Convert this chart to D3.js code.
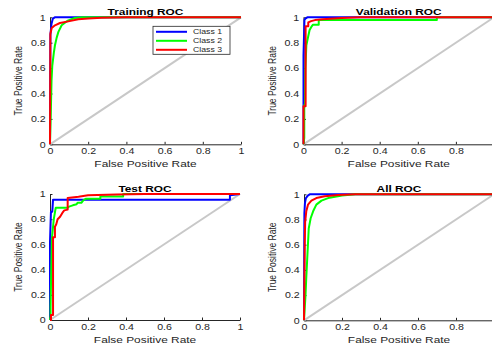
<!DOCTYPE html>
<html>
<head>
<meta charset="utf-8">
<script src="https://cdn.jsdelivr.net/npm/d3@7"></script>
<style>
  body { margin: 0; background: #fff; }
  svg { display: block; font-family: "Liberation Sans", Arial, sans-serif; }
</style>
</head>
<body>
<div id="chart"></div>
<script>
// tick values and legend names
const ticks = [0, 0.2, 0.4, 0.6, 0.8, 1];
const classNames = ["Class 1", "Class 2", "Class 3"];
const classColors = ["#0000ff", "#00ff00", "#ff0000"];

// ROC points, [false positive rate, true positive rate]
const trainingC1 = [[0,0],[0.002,0.86],[0.008,0.95],[0.015,0.99],[0.025,1],[1,1]];
const trainingC2 = [[0,0],[0.005,0.3],[0.008,0.5],[0.012,0.62],[0.02,0.72],[0.026,0.78],[0.035,0.84],[0.044,0.885],[0.061,0.937],[0.08,0.96],[0.096,0.976],[0.13,0.994],[0.17,1],[1,1]];
const trainingC3 = [[0,0],[0.002,0.87],[0.009,0.916],[0.026,0.937],[0.052,0.955],[0.096,0.968],[0.148,0.984],[0.2,0.99],[0.27,0.997],[0.4,1],[1,1]];

const validationC1 = [[0,0],[0,0.7],[0.005,0.98],[0.01,0.99],[0.02,1],[1,1]];
const validationC2 = [[0,0],[0.004,0.05],[0.004,0.31],[0.008,0.31],[0.01,0.6],[0.015,0.78],[0.024,0.845],[0.032,0.9],[0.041,0.924],[0.05,0.942],[0.08,0.942],[0.08,0.979],[0.7,0.979],[0.7,1],[1,1]];
const validationC3 = [[0,0],[0,0.3],[0.011,0.3],[0.011,0.93],[0.025,0.93],[0.025,0.96],[0.04,0.97],[0.06,0.978],[0.1,0.985],[0.2,0.995],[0.3,1],[1,1]];

const testC1 = [[0,0],[0,0.62],[0.005,0.86],[0.012,0.86],[0.016,0.955],[0.947,0.955],[0.947,0.99],[1,1]];
const testC2 = [[0,0],[0.003,0.03],[0.003,0.1],[0.006,0.35],[0.01,0.65],[0.02,0.8],[0.03,0.89],[0.09,0.89],[0.1,0.9],[0.12,0.91],[0.14,0.918],[0.145,0.93],[0.165,0.93],[0.175,0.95],[0.19,0.963],[0.265,0.963],[0.265,0.981],[0.385,0.981],[0.385,1],[1,1]];
const testC3 = [[0,0],[0.005,0],[0.005,0.04],[0.016,0.04],[0.016,0.656],[0.026,0.656],[0.026,0.74],[0.033,0.76],[0.04,0.8],[0.053,0.82],[0.065,0.85],[0.075,0.87],[0.093,0.876],[0.093,0.968],[0.15,0.978],[0.2,0.99],[0.35,0.997],[0.5,1],[1,1]];

const allC1 = [[0,0],[0.002,0.85],[0.005,0.93],[0.01,0.97],[0.02,0.99],[0.03,1],[1,1]];
const allC2 = [[0,0],[0.008,0.2],[0.012,0.34],[0.018,0.52],[0.025,0.73],[0.035,0.81],[0.048,0.865],[0.065,0.918],[0.092,0.95],[0.127,0.97],[0.2,0.99],[0.27,1],[1,1]];
const allC3 = [[0,0],[0.002,0.3],[0.004,0.6],[0.006,0.78],[0.012,0.865],[0.021,0.918],[0.039,0.95],[0.065,0.97],[0.109,0.984],[0.18,0.995],[0.27,1],[1,1]];

const W = 492, H = 344;
const SX = 1.25; // the picture is stretched sideways, so is its text

const panels = [
  { title: "Training ROC",   left: 50,  right: 241, top: 17.3, bottom: 144.3, curves: [trainingC1, trainingC2, trainingC3], legend: true },
  { title: "Validation ROC", left: 303.5, right: 494, top: 17.3, bottom: 144.3, curves: [validationC1, validationC2, validationC3] },
  { title: "Test ROC",       left: 50,  right: 240, top: 194, bottom: 320, curves: [testC1, testC2, testC3] },
  { title: "All ROC",        left: 304, right: 494, top: 194.3, bottom: 320.3, curves: [allC1, allC2, allC3] }
];

const svg = d3.select("#chart").append("svg")
  .attr("width", W)
  .attr("height", H);

panels.forEach(p => {
  const x = d3.scaleLinear().domain([0, 1]).range([p.left, p.right]);
  const y = d3.scaleLinear().domain([0, 1]).range([p.bottom, p.top]);
  const g = svg.append("g");

  // tick labels that would fall past the page edge are dropped (the reference is cropped there)
  const fmt = d => (x(d) + 3 > W ? "" : d3.format("~g")(d));

  // axes, ticks pointing inward like matlab
  const xAxis = g.append("g")
    .attr("transform", `translate(0,${p.bottom})`)
    .call(d3.axisBottom(x).tickValues(ticks).tickFormat(fmt).tickSizeInner(-2.5).tickSizeOuter(0).tickPadding(4));
  const yAxis = g.append("g")
    .attr("transform", `translate(${p.left},0)`)
    .call(d3.axisLeft(y).tickValues(ticks).tickFormat(d3.format("~g")).tickSizeInner(-2.5).tickSizeOuter(0).tickPadding(4));

  [xAxis, yAxis].forEach(a => {
    a.select(".domain").attr("stroke", "#262626").attr("stroke-width", 1);
    a.selectAll(".tick line").attr("stroke", "#262626");
    a.selectAll(".tick text").attr("fill", "#262626").attr("font-size", 8.5).attr("font-family", null);
  });
  xAxis.selectAll(".tick text").attr("transform", `scale(${SX},1)`);
  yAxis.selectAll(".tick text").attr("x", -3.5).attr("transform", `scale(${SX},1)`);

  // chance diagonal
  const line = d3.line().x(d => x(d[0])).y(d => y(d[1]));
  g.append("path")
    .attr("d", line([[0, 0], [1, 1]]))
    .attr("fill", "none")
    .attr("stroke", "#c8c8c8")
    .attr("stroke-width", 2);

  p.curves.forEach((c, i) => {
    g.append("path")
      .attr("d", line(c))
      .attr("fill", "none")
      .attr("stroke", classColors[i])
      .attr("stroke-width", 2)
      .attr("stroke-linejoin", "round");
  });

  const cx = (p.left + p.right) / 2;
  g.append("text")
    .attr("transform", `translate(${cx},${p.top - 2}) scale(${SX},1)`)
    .attr("text-anchor", "middle")
    .attr("font-size", 9.5)
    .attr("font-weight", "bold")
    .text(p.title);

  g.append("text")
    .attr("transform", `translate(${cx},${p.bottom + 22.5}) scale(${SX},1)`)
    .attr("text-anchor", "middle")
    .attr("font-size", 9.5)
    .attr("fill", "#262626")
    .text("False Positive Rate");

  g.append("text")
    .attr("transform", `translate(${p.left - 28},${(p.top + p.bottom) / 2}) scale(${SX},1) rotate(-90)`)
    .attr("text-anchor", "middle")
    .attr("font-size", 8.5)
    .attr("fill", "#262626")
    .text("True Positive Rate");

  if (p.legend) {
    const lx = p.right - 88, ly = p.top + 9;
    const lg = g.append("g").attr("transform", `translate(${lx},${ly})`);
    lg.append("rect")
      .attr("width", 77).attr("height", 28)
      .attr("fill", "#fff").attr("stroke", "#262626").attr("stroke-width", 0.8);
    classNames.forEach((name, i) => {
      const yy = 5.5 + i * 9;
      lg.append("line")
        .attr("x1", 3).attr("x2", 34).attr("y1", yy).attr("y2", yy)
        .attr("stroke", classColors[i]).attr("stroke-width", 2);
      lg.append("text")
        .attr("transform", `translate(40,${yy + 2.5}) scale(${SX},1)`)
        .attr("font-size", 7)
        .attr("fill", "#262626")
        .text(name);
    });
  }
});
</script>
</body>
</html>
